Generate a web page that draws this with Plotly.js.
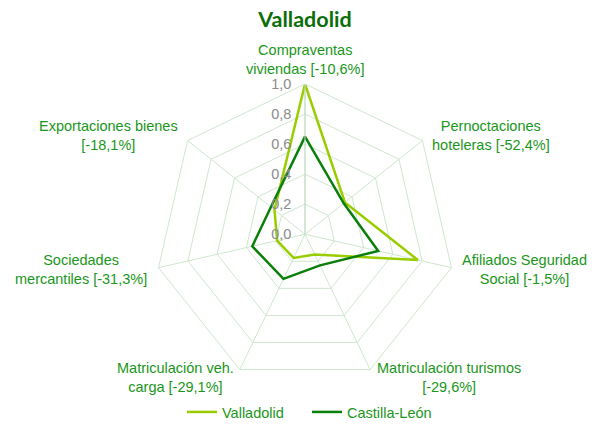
<!DOCTYPE html>
<html><head><meta charset="utf-8">
<script src="https://cdn.plot.ly/plotly-3.0.1.min.js"></script>
<style>html,body{margin:0;padding:0;background:#fff}#chart{width:598px;height:428px}</style>
</head><body><div id="chart"></div>
<script>
const categories = [
  "Compraventas<br>viviendas [-10,6%]",
  "Pernoctaciones<br>hoteleras [-52,4%]",
  "Afiliados Seguridad<br>Social [-1,5%]",
  "Matriculación turismos<br>[-29,6%]",
  "Matriculación veh.<br>carga [-29,1%]",
  "Sociedades<br>mercantiles [-31,3%]",
  "Exportaciones bienes<br>[-18,1%]"
];
const valladolid = [1.0, 0.34, 0.77, 0.15, 0.175, 0.19, 0.26];
const castillaLeon = [0.65, 0.33, 0.50, 0.23, 0.33, 0.36, 0.29];
const radialTicks = [0, 0.2, 0.4, 0.6, 0.8, 1.0];

function closed(a){ return a.concat([a[0]]); }

const labelColor = "#1a961a";
const gridColor = "#cfe6cf";
const W = 598, H = 428;
const FONT = "'Liberation Sans', Arial, sans-serif";
const FS = 14.5;

// label placement (pixel centers of each category label block)
const labelPos = [[305,60.5],[490.5,137.5],[524.5,273],[448.5,381.5],[175,381.5],[81,273],[108.5,137.5]];

const traces = [
  {type:"scatterpolar", mode:"lines", name:"Valladolid",
   r: closed(valladolid), theta: closed(categories),
   line:{color:"#9acd00", width:2.5}},
  {type:"scatterpolar", mode:"lines", name:"Castilla-León",
   r: closed(castillaLeon), theta: closed(categories),
   line:{color:"#0a7f0a", width:2.5}}
];

const annotations = categories.map((c,i)=>({
  text:c, xref:"paper", yref:"paper",
  x: labelPos[i][0]/W, y: 1-labelPos[i][1]/H,
  xanchor:"center", yanchor:"middle", align:"center", showarrow:false,
  font:{family:FONT, size:FS, color:labelColor}
}));

const layout = {
  width:W, height:H,
  margin:{l:0,r:0,t:0,b:0},
  paper_bgcolor:"#fff",
  separators:",.",
  font:{family:FONT, size:FS, color:labelColor},
  title:{text:"<b>Valladolid</b>", x:305/W, xanchor:"center", y:1-19/H, yanchor:"middle",
         font:{family:"Lato, sans-serif", size:21.5, color:"#0b6e0b"}},
  showlegend:true,
  legend:{orientation:"h", x:307/W, xanchor:"center", y:1-417/H, yanchor:"middle",
          font:{family:FONT, size:FS, color:labelColor}, itemwidth:30, entrywidth:80, entrywidthmode:"pixels"},
  annotations: annotations,
  polar:{
    domain:{x:[153/W, 457/W], y:[1-389/H, 1-85/H]},
    bgcolor:"#fff",
    gridshape:"linear",
    angularaxis:{rotation:90, direction:"clockwise", type:"category",
      categoryorder:"array", categoryarray:categories, showticklabels:false,
      showline:true, linecolor:gridColor, linewidth:1,
      gridcolor:gridColor, gridwidth:1, ticks:""},
    radialaxis:{range:[0,1], tickvals:radialTicks, tickformat:".1f",
      angle:90, tickangle:90, side:"counterclockwise", showline:true, linecolor:"#c5d8c5",
      gridcolor:gridColor, ticks:"outside", ticklen:8, tickcolor:"rgba(0,0,0,0)",
      tickfont:{family:FONT, size:FS, color:"#8c8c8c"}}
  }
};
Plotly.newPlot("chart", traces, layout, {displayModeBar:false, staticPlot:true});
</script></body></html>
